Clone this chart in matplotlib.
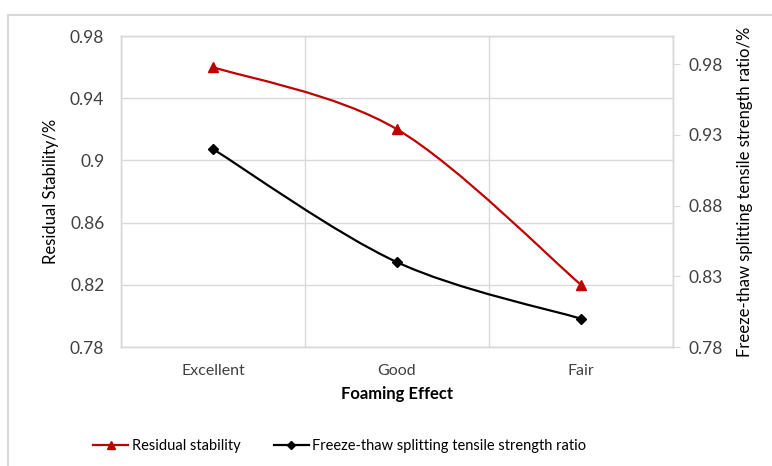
import matplotlib
matplotlib.use("Agg")
import matplotlib.pyplot as plt
from matplotlib.path import Path
from matplotlib.patches import PathPatch, Rectangle
from matplotlib.lines import Line2D
import numpy as np

categories = ["Excellent", "Good", "Fair"]
residual_stability = [0.96, 0.92, 0.82]
freeze_thaw_ratio = [0.92, 0.84, 0.80]
left_ticks = [0.78, 0.82, 0.86, 0.90, 0.94, 0.98]
left_tick_labels = ["0.78", "0.82", "0.86", "0.9", "0.94", "0.98"]
right_ticks = [0.78, 0.83, 0.88, 0.93, 0.98]
right_tick_labels = ["0.78", "0.83", "0.88", "0.93", "0.98"]

plt.rcParams['font.family'] = ['Lato', 'DejaVu Sans']

W, H = 772, 466
fig = plt.figure(figsize=(W / 100, H / 100), dpi=100)

# outer chart border
fig.patches.append(Rectangle((8 / W, -0.1), 1.2, 1 - 15 / H + 0.1, transform=fig.transFigure,
                             fill=False, edgecolor="#d9d9d9", linewidth=1.5))

ax = fig.add_axes([121 / W, 1 - 347 / H, (673 - 121) / W, (347 - 36) / H])
ax2 = ax.twinx()

x = np.arange(len(categories))


def smooth_path(xs, ys):
    pts = np.column_stack([xs, ys]).astype(float)
    n = len(pts)
    verts = [pts[0]]
    codes = [Path.MOVETO]
    for i in range(n - 1):
        p0 = pts[i - 1] if i > 0 else pts[i]
        p1 = pts[i]
        p2 = pts[i + 1]
        p3 = pts[i + 2] if i + 2 < n else pts[i + 1]
        c1 = p1 + (p2 - p0) / 6.0
        c2 = p2 - (p3 - p1) / 6.0
        verts += [c1, c2, p2]
        codes += [Path.CURVE4] * 3
    return Path(verts, codes)


red = "#C00000"
ax.add_patch(PathPatch(smooth_path(x, residual_stability), fill=False, edgecolor=red, linewidth=1.6, zorder=3))
ax.plot(x, residual_stability, linestyle="none", marker="^", color=red, markersize=7.5, zorder=4)

ax2.add_patch(PathPatch(smooth_path(x, freeze_thaw_ratio), fill=False, edgecolor="black", linewidth=1.6, zorder=3))
ax2.plot(x, freeze_thaw_ratio, linestyle="none", marker="D", color="black", markersize=5, zorder=4)

ax.set_xlim(-0.5, len(categories) - 0.5)
ax.set_ylim(0.78, 0.98)
ax2.set_ylim(0.78, 1.0)

ax.set_yticks(left_ticks)
ax.set_yticklabels(left_tick_labels, fontsize=12.5, color="#404040")
ax2.set_yticks(right_ticks)
ax2.set_yticklabels(right_tick_labels, fontsize=12.5, color="#404040")
ax.set_xticks(x)
ax.set_xticklabels(categories, fontsize=11.5, color="#404040")

# vertical gridlines at category boundaries
ax.set_xticks(np.arange(-0.5, len(categories), 1.0), minor=True)
ax.grid(True, which="minor", axis="x", color="#d9d9d9", linewidth=1)
ax.grid(True, which="major", axis="y", color="#d9d9d9", linewidth=1)
ax.set_axisbelow(True)

for a in (ax, ax2):
    for s in a.spines.values():
        s.set_color("#d9d9d9")
        s.set_linewidth(1)

ax.tick_params(axis="y", length=0, pad=12)
ax.tick_params(axis="x", which="both", length=0, pad=12)
ax2.tick_params(axis="y", length=5, color="#d9d9d9", pad=6)

ax.set_xlabel("Foaming Effect", fontsize=12, fontweight="bold", color="black", labelpad=6)
ax.set_ylabel("Residual Stability/%", fontsize=12, color="black", labelpad=8)
ax2.set_ylabel("Freeze-thaw splitting tensile strength ratio/%", fontsize=12, color="black", labelpad=10)

handles = [
    Line2D([], [], color=red, marker="^", markersize=6, linewidth=1.6),
    Line2D([], [], color="black", marker="D", markersize=4, linewidth=1.6),
]
fig.legend(handles, ["Residual stability", "Freeze-thaw splitting tensile strength ratio"],
           loc="center left", bbox_to_anchor=(93 / W, 1 - 446 / H), ncol=2, frameon=False,
           fontsize=10.5, handlelength=2.4, columnspacing=2.3, handletextpad=0.25, borderaxespad=0,
           borderpad=0)

fig.savefig("out.png", dpi=100)
